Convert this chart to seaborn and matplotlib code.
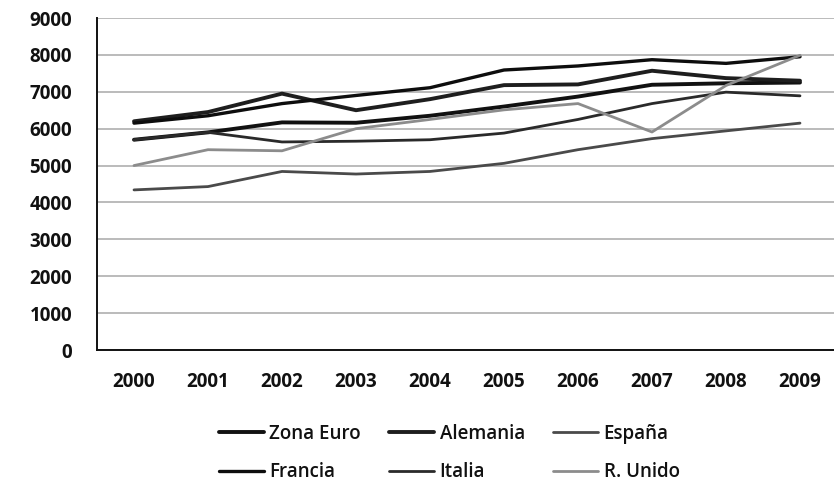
import matplotlib
matplotlib.use("Agg")
import matplotlib.pyplot as plt
import seaborn as sns
import pandas as pd

YEARS = ["2000", "2001", "2002", "2003", "2004", "2005", "2006", "2007", "2008", "2009"]
Y_TICKS = [0, 1000, 2000, 3000, 4000, 5000, 6000, 7000, 8000, 9000]

zona_euro = [5700, 5900, 6170, 6160, 6350, 6600, 6870, 7190, 7230, 7250]
alemania = [6200, 6450, 6950, 6500, 6800, 7180, 7200, 7570, 7370, 7300]
espana = [4340, 4430, 4840, 4770, 4840, 5060, 5430, 5730, 5940, 6150]
francia = [6150, 6350, 6680, 6900, 7110, 7590, 7700, 7870, 7770, 7950]
italia = [5700, 5900, 5640, 5660, 5700, 5880, 6250, 6680, 6990, 6890]
reino_unido = [5000, 5430, 5400, 6000, 6250, 6510, 6680, 5910, 7170, 7990]

SERIES = {
    "Zona Euro": zona_euro,
    "Alemania": alemania,
    "España": espana,
    "Francia": francia,
    "Italia": italia,
    "R. Unido": reino_unido,
}
# colour, linewidth
STYLE = {
    "Zona Euro": ("#111111", 2.8),
    "Alemania": ("#1e1e1e", 2.8),
    "España": ("#4a4a4a", 2.0),
    "Francia": ("#0d0d0d", 2.4),
    "Italia": ("#2a2a2a", 2.0),
    "R. Unido": ("#8c8c8c", 2.0),
}

rows = []
for name, vals in SERIES.items():
    for i, v in enumerate(vals):
        rows.append({"pais": name, "x": i, "valor": v})
df = pd.DataFrame(rows)

sns.set_style("white")
plt.rcParams["font.family"] = ["Open Sans", "DejaVu Sans"]

fig = plt.figure(figsize=(8.34, 4.88), dpi=100)
ax = fig.add_axes([97 / 834, 1 - 350 / 488, 740 / 834, 332 / 488])

handles = {}
for name in SERIES:
    color, lw = STYLE[name]
    sub = df[df["pais"] == name]
    sns.lineplot(data=sub, x="x", y="valor", color=color, linewidth=lw, ax=ax,
                 label=name, legend=False)
    handles[name] = ax.lines[-1]

ax.set_xlim(-0.5, 9.5)
ax.set_ylim(0, 9000)
ax.set_yticks(Y_TICKS)
ax.set_yticklabels([str(t) for t in Y_TICKS], fontsize=13.5, fontweight="bold",
                   color="#111111")
ax.yaxis.grid(True, color="#a8a8a8", linewidth=1.1)
ax.set_axisbelow(True)

ax.set_xticks([i - 0.5 for i in range(len(YEARS))])
ax.set_xticklabels([])
ax.set_xticks(range(len(YEARS)), minor=True)
ax.set_xticklabels(YEARS, minor=True, fontsize=13.5, fontweight="bold", color="#111111")
ax.tick_params(axis="x", which="major", direction="out", length=6, width=1.2, color="#222222")
ax.tick_params(axis="x", which="minor", length=0, pad=16)
ax.tick_params(axis="y", direction="out", length=5, width=1.2, color="#222222", pad=13)

for side in ["top", "right"]:
    ax.spines[side].set_visible(False)
for side in ["left", "bottom"]:
    ax.spines[side].set_color("#111111")
    ax.spines[side].set_linewidth(1.4)

ax.set_xlabel("")
ax.set_ylabel("")

order = ["Zona Euro", "Francia", "Alemania", "Italia", "España", "R. Unido"]
leg = fig.legend([handles[n] for n in order], order, loc="center",
                 bbox_to_anchor=(449 / 834, 1 - 453 / 488), ncol=3, frameon=False,
                 fontsize=13.5, handlelength=2.4, handletextpad=0.3, columnspacing=1.5,
                 labelspacing=1.0)
for t in leg.get_texts():
    t.set_fontweight("semibold")
    t.set_color("#111111")

fig.savefig("out.png", dpi=100)
